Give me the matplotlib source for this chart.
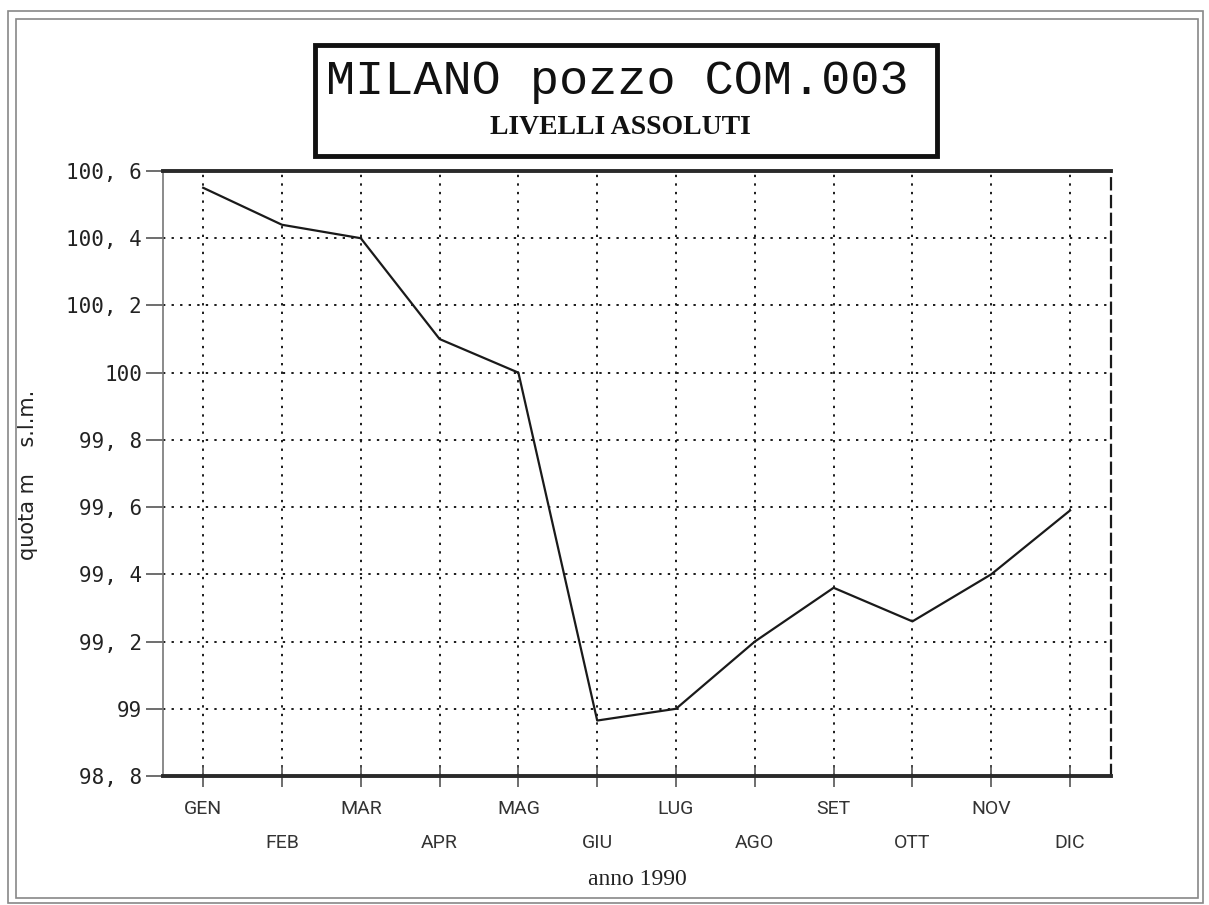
import matplotlib
matplotlib.use("Agg")
import matplotlib.pyplot as plt
from matplotlib.patches import Rectangle
from matplotlib.ticker import FixedLocator, FixedFormatter

# Monthly groundwater levels, well COM.003, Milan, 1990
months = ["GEN", "FEB", "MAR", "APR", "MAG", "GIU",
          "LUG", "AGO", "SET", "OTT", "NOV", "DIC"]
levels = [100.55, 100.44, 100.40, 100.10, 100.00, 98.965,
          99.00, 99.20, 99.36, 99.26, 99.40, 99.59]
y_ticks = [98.8, 99.0, 99.2, 99.4, 99.6, 99.8, 100.0, 100.2, 100.4, 100.6]
y_tick_labels = ["98, 8", "99", "99, 2", "99, 4", "99, 6", "99, 8",
                 "100", "100, 2", "100, 4", "100, 6"]

title = "MILANO pozzo COM.003"
subtitle = "LIVELLI ASSOLUTI"
x_label = "anno 1990"
y_label = "quota m    s.l.m."

W, H, DPI = 1209, 905, 100
fig = plt.figure(figsize=(W / DPI, H / DPI), dpi=DPI)
fig.patch.set_facecolor("white")

def px(x0, y0, x1, y1):
    """Figure-fraction rectangle from pixel corners (origin top-left)."""
    return [x0 / W, 1 - y1 / H, (x1 - x0) / W, (y1 - y0) / H]

ax = fig.add_axes(px(163, 171, 1111, 776))

x = list(range(len(months)))
ax.plot(x, levels, color="#1a1a1a", lw=1.6, solid_joinstyle="round")

ax.set_xlim(-0.51, len(months) - 1 + 0.52)
ax.set_ylim(98.8, 100.6)

# y axis
ax.set_yticks(y_ticks)
ax.set_yticklabels(y_tick_labels, family=["DejaVu Sans Mono"], fontsize=15,
                   color="#222222")
ax.tick_params(axis="y", direction="out", length=12, width=1.2,
               color="#555555", pad=3)

# x axis: alternate months on two label rows
ax.xaxis.set_major_locator(FixedLocator(x[0::2]))
ax.xaxis.set_major_formatter(FixedFormatter(months[0::2]))
ax.xaxis.set_minor_locator(FixedLocator(x[1::2]))
ax.xaxis.set_minor_formatter(FixedFormatter(months[1::2]))
for lab in ax.get_xticklabels(which="major") + ax.get_xticklabels(which="minor"):
    lab.set_fontfamily(["Roboto", "DejaVu Sans"])
    lab.set_fontsize(14)
    lab.set_color("#333333")
ax.tick_params(axis="x", which="both", direction="inout", length=16,
               width=1.2, color="#555555")
ax.tick_params(axis="x", which="major", pad=9)
ax.tick_params(axis="x", which="minor", pad=34)

# dotted grid
grid_style = dict(color="#1a1a1a", lw=1.4, linestyle=(0, (1.2, 3.2)))
ax.grid(True, axis="y", which="major", **grid_style)
ax.grid(True, axis="x", which="both", **grid_style)
ax.set_axisbelow(True)

# frame
ax.spines["top"].set_linewidth(2.8)
ax.spines["top"].set_color("#2a2a2a")
ax.spines["bottom"].set_linewidth(2.8)
ax.spines["bottom"].set_color("#2a2a2a")
ax.spines["left"].set_linewidth(1.2)
ax.spines["left"].set_color("#777777")
ax.spines["right"].set_linewidth(1.6)
ax.spines["right"].set_color("#1a1a1a")
ax.spines["right"].set_linestyle((0, (5, 3)))

# axis titles
fig.text(637 / W, 1 - 879 / H, x_label, ha="center", va="center",
         family=["Liberation Serif"], fontsize=17, color="#222222")
fig.text(28 / W, 1 - 475 / H, y_label, ha="center", va="center",
         rotation=90, family=["DejaVu Sans"], fontsize=15, color="#222222")

# title box
fig.patches.append(Rectangle((315 / W, 1 - 156 / H), (937 - 315) / W,
                             (156 - 45) / H, transform=fig.transFigure,
                             fill=False, ec="#111111", lw=3.5))
fig.text(617 / W, 1 - 82 / H, title, ha="center", va="center",
         family=["Liberation Mono"], fontsize=35, color="#111111")
fig.text(620 / W, 1 - 128 / H, subtitle, ha="center", va="center",
         family=["Liberation Serif"], fontsize=20, fontweight="bold",
         color="#111111")

# outer double border of the sheet
for (x0, y0, x1, y1) in [(8, 11, 1203, 903), (16, 19, 1198, 898)]:
    fig.patches.append(Rectangle((x0 / W, 1 - y1 / H), (x1 - x0) / W,
                                 (y1 - y0) / H, transform=fig.transFigure,
                                 fill=False, ec="#888888", lw=1.2))

fig.savefig("out.png", dpi=DPI, facecolor="white")
